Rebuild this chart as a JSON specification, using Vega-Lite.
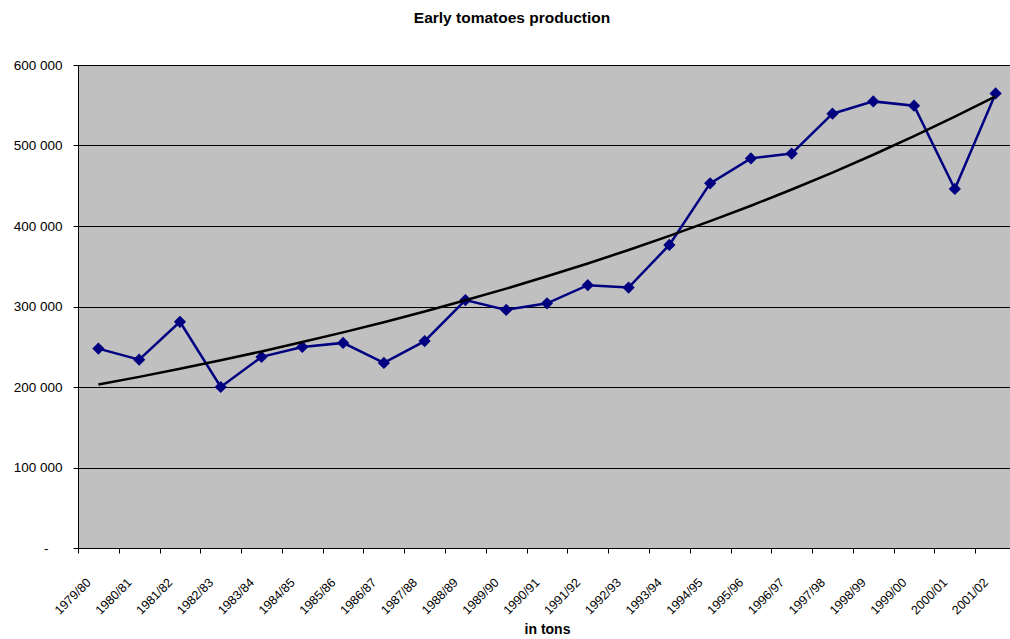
{
  "$schema": "https://vega.github.io/schema/vega-lite/v6.json",
  "width": 932,
  "height": 483,
  "autosize": {"type": "none"},
  "padding": {"left": 78, "top": 65, "right": 0, "bottom": 91},
  "background": "white",
  "config": {"view": {"fill": "#C0C0C0", "stroke": null}, "font": "Liberation Sans"},
  "title": {"text": "Early tomatoes production", "fontSize": 15.5, "fontWeight": "bold", "font": "Liberation Sans", "color": "black", "anchor": "middle", "dx": -32, "baseline": "alphabetic", "offset": 20},
  "data": {"values": [
    {"season": "1979/80", "production": 247700, "trend": 203000},
    {"season": "1980/81", "production": 234000, "trend": 212600},
    {"season": "1981/82", "production": 281000, "trend": 222700},
    {"season": "1982/83", "production": 200000, "trend": 233200},
    {"season": "1983/84", "production": 237400, "trend": 244200},
    {"season": "1984/85", "production": 249800, "trend": 255800},
    {"season": "1985/86", "production": 254800, "trend": 267900},
    {"season": "1986/87", "production": 229900, "trend": 280500},
    {"season": "1987/88", "production": 257000, "trend": 293800},
    {"season": "1988/89", "production": 308000, "trend": 307700},
    {"season": "1989/90", "production": 295800, "trend": 322200},
    {"season": "1990/91", "production": 304000, "trend": 337500},
    {"season": "1991/92", "production": 326500, "trend": 353400},
    {"season": "1992/93", "production": 323600, "trend": 370200},
    {"season": "1993/94", "production": 376500, "trend": 387700},
    {"season": "1994/95", "production": 453000, "trend": 406000},
    {"season": "1995/96", "production": 484000, "trend": 425200},
    {"season": "1996/97", "production": 490000, "trend": 445300},
    {"season": "1997/98", "production": 539500, "trend": 466400},
    {"season": "1998/99", "production": 554800, "trend": 488500},
    {"season": "1999/00", "production": 549400, "trend": 511600},
    {"season": "2000/01", "production": 446000, "trend": 535800},
    {"season": "2001/02", "production": 564700, "trend": 561100}
  ]},
  "encoding": {
    "x": {
      "field": "season", "type": "nominal", "sort": null, "bandPosition": 0.5,
      "scale": {"type": "band", "range": [0, 938], "paddingInner": 0, "paddingOuter": 0},
      "axis": {"tickBand": "extent", "labelAngle": -45, "labelAlign": "right", "labelBaseline": "middle", "labelOffset": -10, "labelPadding": 27, "labelFontSize": 12.5, "labelColor": "black", "labelFont": "Liberation Sans", "tickColor": "black", "tickSize": 5, "domainColor": "black", "grid": false, "labelOverlap": false, "labelBound": false, "title": "in tons", "titleFont": "Liberation Sans", "titleFontSize": 14, "titleFontWeight": "bold", "titleColor": "black", "titleY": 85, "titleBaseline": "alphabetic"}
    },
    "y": {
      "field": "production", "type": "quantitative",
      "scale": {"domain": [0, 600000]},
      "axis": {"values": [0, 100000, 200000, 300000, 400000, 500000, 600000], "labelExpr": "datum.value == 0 ? '-' : format(datum.value / 1000, 'd') + ' 000'", "grid": true, "gridColor": "black", "gridWidth": 1, "domainColor": "black", "tickColor": "black", "tickSize": 5, "labelFontSize": 13.5, "labelColor": "black", "labelFont": "Liberation Sans", "labelPadding": {"condition": {"test": "datum.value == 0", "value": 25}, "value": 11}, "title": null}
    }
  },
  "layer": [
    {"mark": {"type": "line", "color": "#000080", "strokeWidth": 2.5}},
    {"mark": {"type": "point", "shape": "diamond", "filled": true, "color": "#000080", "size": 150, "opacity": 1}},
    {"mark": {"type": "line", "color": "black", "strokeWidth": 2.5},
     "encoding": {"y": {"field": "trend", "type": "quantitative", "axis": {"values": [0, 100000, 200000, 300000, 400000, 500000, 600000], "labelExpr": "datum.value == 0 ? '-' : format(datum.value / 1000, 'd') + ' 000'", "grid": true, "gridColor": "black", "gridWidth": 1, "domainColor": "black", "tickColor": "black", "tickSize": 5, "labelFontSize": 13.5, "labelColor": "black", "labelFont": "Liberation Sans", "labelPadding": {"condition": {"test": "datum.value == 0", "value": 25}, "value": 11}, "title": null}}}}
  ]
}
